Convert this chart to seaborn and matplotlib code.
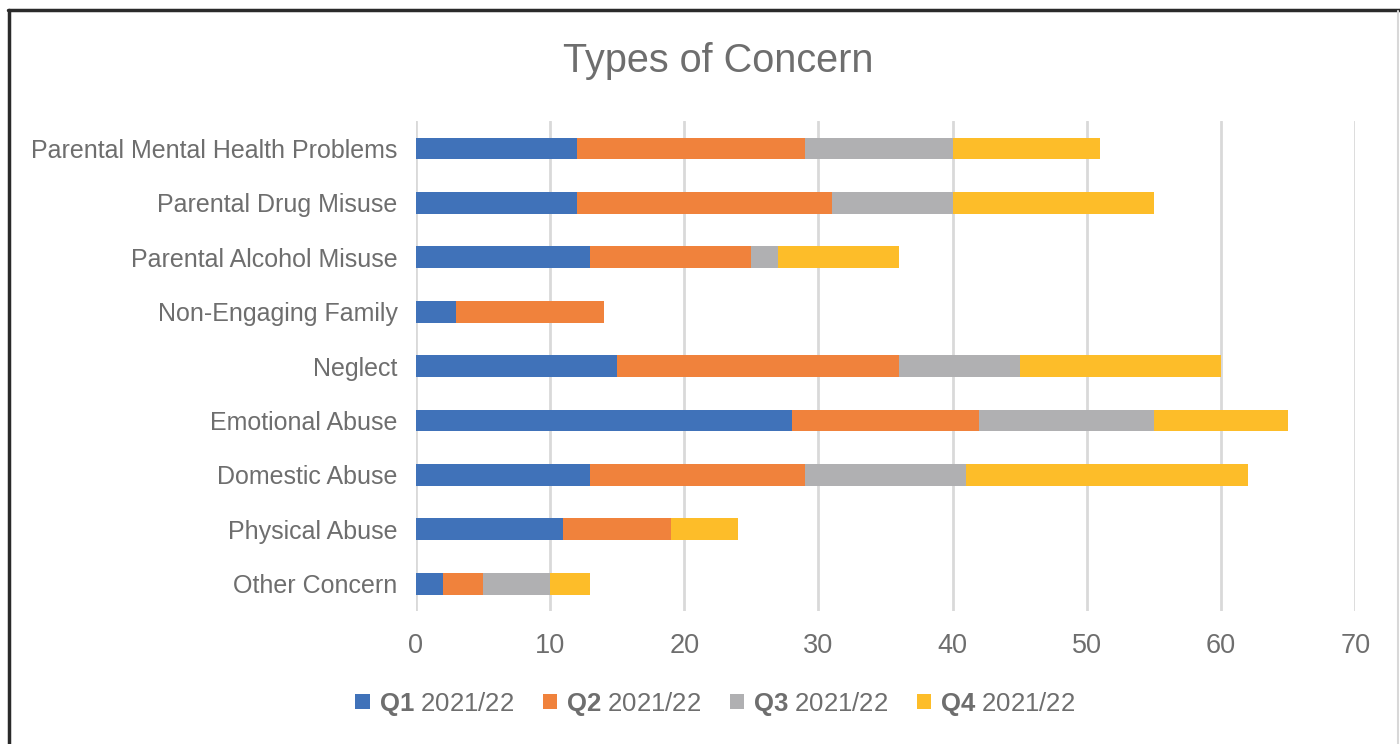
import numpy as np
import pandas as pd
import seaborn as sns
import matplotlib.pyplot as plt
from matplotlib.lines import Line2D
from matplotlib.patches import Patch

categories = ['Parental Mental Health Problems', 'Parental Drug Misuse',
              'Parental Alcohol Misuse', 'Non-Engaging Family', 'Neglect',
              'Emotional Abuse', 'Domestic Abuse', 'Physical Abuse', 'Other Concern']
q1 = [12, 12, 13, 3, 15, 28, 13, 11, 2]
q2 = [17, 19, 12, 11, 21, 14, 16, 8, 3]
q3 = [11, 9, 2, 0, 9, 13, 12, 0, 5]
q4 = [11, 15, 9, 0, 15, 10, 21, 5, 3]
series_names = ['Q1', 'Q2', 'Q3', 'Q4']
colors = ['#4072b9', '#f0823c', '#b0b0b2', '#fdbd29']
xticks = [0, 10, 20, 30, 40, 50, 60, 70]

sns.set_theme(style='white')
plt.rcParams['font.family'] = ['Liberation Sans', 'DejaVu Sans']
plt.rcParams['mathtext.fontset'] = 'custom'
plt.rcParams['mathtext.bf'] = 'Liberation Sans:bold'
plt.rcParams['mathtext.rm'] = 'Liberation Sans'
text_color = '#6e6e6e'

series = [q1, q2, q3, q4]
cum = np.cumsum(np.array(series), axis=0)

fig = plt.figure(figsize=(14, 7.44), dpi=100)
ax = fig.add_axes([0.297, 0.179, 0.671, 0.658])

# draw cumulative totals from the outermost segment inward
for i in range(3, -1, -1):
    df = pd.DataFrame({'category': categories, 'value': cum[i]})
    sns.barplot(data=df, x='value', y='category', orient='h', color=colors[i],
                width=0.4, saturation=1, ax=ax, zorder=2, linewidth=0)

ax.set_xlim(0, 70)
ax.set_ylim(8.5, -0.5)
ax.set_xticks(xticks)
ax.xaxis.grid(True, color='#d9d9d9', linewidth=2, zorder=0)
ax.set_axisbelow(True)
for s in ax.spines.values():
    s.set_visible(False)
ax.set_xlabel('')
ax.set_ylabel('')
ax.tick_params(axis='x', labelsize=19.5, labelcolor=text_color, length=0, pad=16)
ax.tick_params(axis='y', labelsize=18, labelcolor=text_color, length=0, pad=13)

fig.text(0.513, 0.918, 'Types of Concern', ha='center', va='center',
         fontsize=28.5, color=text_color)

handles = [Patch(facecolor=c, edgecolor='none') for c in colors]
labels = [r'$\bf{' + n + '}$ 2021/22' for n in series_names]
leg = fig.legend(handles, labels, loc='center', bbox_to_anchor=(0.511, 0.054),
                 ncol=4, frameon=False, fontsize=18.5, handlelength=0.55,
                 handleheight=0.55, handletextpad=0.35, columnspacing=1.12)
for t in leg.get_texts():
    t.set_color(text_color)

# outer frame
fig.add_artist(Line2D([0.0065, 0.0065], [0, 0.987], transform=fig.transFigure,
                      color='#2a2a2a', linewidth=2.5))
fig.add_artist(Line2D([0.0055, 1.0], [0.987, 0.987], transform=fig.transFigure,
                      color='#2a2a2a', linewidth=2.5))
fig.add_artist(Line2D([0.9985, 0.9985], [0, 0.985], transform=fig.transFigure,
                      color='#d8d8d8', linewidth=1.5))

fig.savefig('out.png', dpi=100)
